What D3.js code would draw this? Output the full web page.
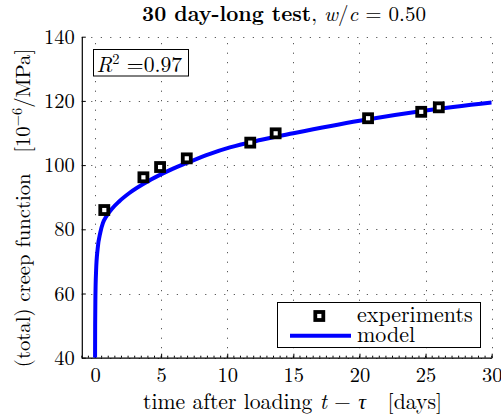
<!DOCTYPE html>
<html>
<head>
<meta charset="utf-8">
<script src="https://cdn.jsdelivr.net/npm/d3@7"></script>
<style>
  body { margin: 0; background: #fff; }
</style>
</head>
<body>
<div id="chart"></div>
<script>
const width = 501;
const height = 419;
const margin = { top: 36.7, right: 9.3, bottom: 61.3, left: 81.8 };
const fontFamily = '"Latin Modern Roman", "CMU Serif", "Liberation Serif", serif';

const days = [0.7, 3.66, 4.92, 6.94, 11.74, 13.66, 20.65, 24.67, 26.0];
const creep = [86.0, 96.2, 99.4, 102.1, 107.0, 109.9, 114.6, 116.6, 118.0];

// model curve
const modelDays = [0.003, 0.01, 0.03, 0.08, 0.2, 0.4, 0.6, 0.85, 1.3, 1.8, 2.6, 4.2, 5.7, 7.2, 8.7, 10.2, 12.5, 15, 20, 25, 30];
const modelCreep = [40, 50, 59, 67, 74, 79, 82, 84, 86.5, 88.6, 91.3, 95.4, 98.5, 101.1, 103.5, 105.5, 107.8, 109.9, 113.8, 117.0, 119.5];

const xTicks = [0, 5, 10, 15, 20, 25, 30];
const yTicks = [40, 60, 80, 100, 120, 140];
const xMinor = d3.range(-1, 30.01, 0.5);

const x = d3.scaleLinear().domain([-1, 30]).range([margin.left, width - margin.right]);
const y = d3.scaleLinear().domain([40, 140]).range([height - margin.bottom, margin.top]);

const svg = d3.select("#chart")
  .append("svg")
  .attr("width", width)
  .attr("height", height)
  .style("font-family", fontFamily);

// grid ////////////////////////////////
const grid = svg.append("g")
  .attr("stroke", "#333")
  .attr("stroke-width", 1)
  .attr("stroke-dasharray", "1,8.5");

grid.selectAll(".vgrid")
  .data(xTicks)
  .enter()
  .append("line")
  .attr("x1", d => Math.round(x(d)) + 0.5)
  .attr("x2", d => Math.round(x(d)) + 0.5)
  .attr("y1", y(40))
  .attr("y2", y(140));

grid.selectAll(".hgrid")
  .data(yTicks)
  .enter()
  .append("line")
  .attr("x1", x(-1))
  .attr("x2", x(30))
  .attr("y1", d => Math.round(y(d)) + 0.5)
  .attr("y2", d => Math.round(y(d)) + 0.5);

// axes ////////////////////////////////
const xAxis = svg.append("g")
  .attr("transform", `translate(0,${y(40)})`)
  .call(d3.axisBottom(x).tickValues(xTicks).tickSizeInner(-4).tickSizeOuter(0).tickPadding(10));
xAxis.select(".domain").attr("stroke-width", 1.2);
xAxis.selectAll("text").attr("font-size", 20.5).style("font-family", fontFamily);

svg.append("g")
  .attr("transform", `translate(0,${y(40)})`)
  .selectAll("line")
  .data(xMinor)
  .enter()
  .append("line")
  .attr("x1", d => x(d))
  .attr("x2", d => x(d))
  .attr("y1", 0)
  .attr("y2", -2)
  .attr("stroke", "#000");

const yAxis = svg.append("g")
  .attr("transform", `translate(${x(-1)},0)`)
  .call(d3.axisLeft(y).tickValues(yTicks).tickSizeInner(-4).tickSizeOuter(0).tickPadding(7));
yAxis.select(".domain").attr("stroke-width", 1.2);
yAxis.selectAll("text").attr("font-size", 20.5).style("font-family", fontFamily);

// model line //////////////////////////
const model = modelDays.map((d, i) => [d, modelCreep[i]]);

svg.append("defs")
  .append("clipPath")
  .attr("id", "plotClip")
  .append("rect")
  .attr("x", x(-1))
  .attr("y", y(140))
  .attr("width", x(30) - x(-1))
  .attr("height", y(40) - y(140));

svg.append("path")
  .datum(model)
  .attr("clip-path", "url(#plotClip)")
  .attr("d", d3.line().x(d => x(d[0])).y(d => y(d[1])).curve(d3.curveMonotoneX))
  .attr("fill", "none")
  .attr("stroke", "#0000ff")
  .attr("stroke-width", 4);

// experiments
svg.selectAll(".exp")
  .data(days)
  .enter()
  .append("rect")
  .attr("class", "exp")
  .attr("x", d => x(d) - 4)
  .attr("y", (d, i) => y(creep[i]) - 4)
  .attr("width", 8)
  .attr("height", 8)
  .attr("fill", "#fff")
  .attr("stroke", "#000")
  .attr("stroke-width", 3.8);

// R^2 box /////////////////////////////
svg.append("rect")
  .attr("x", 93.5)
  .attr("y", 49.5)
  .attr("width", 95)
  .attr("height", 26.5)
  .attr("fill", "#fff")
  .attr("stroke", "#000");

const r2 = svg.append("text")
  .attr("x", 96.5)
  .attr("y", 72)
  .attr("font-size", 21.7);
r2.append("tspan").attr("font-style", "italic").text("R");
r2.append("tspan").attr("font-size", 14.5).attr("dy", -8).text("2");
r2.append("tspan").attr("dy", 8).text(" =0.97");

// legend //////////////////////////////
const legend = svg.append("g");
legend.append("rect")
  .attr("x", 277.5)
  .attr("y", 302.5)
  .attr("width", 203)
  .attr("height", 45)
  .attr("fill", "#fff")
  .attr("stroke", "#000");
legend.append("rect")
  .attr("x", 315.3)
  .attr("y", 312)
  .attr("width", 8)
  .attr("height", 8)
  .attr("fill", "#fff")
  .attr("stroke", "#000")
  .attr("stroke-width", 3.8);
legend.append("line")
  .attr("x1", 290)
  .attr("x2", 351)
  .attr("y1", 335.7)
  .attr("y2", 335.7)
  .attr("stroke", "#0000ff")
  .attr("stroke-width", 4);
legend.append("text")
  .attr("x", 357)
  .attr("y", 322)
  .attr("font-size", 22)
  .text("experiments");
legend.append("text")
  .attr("x", 357)
  .attr("y", 342)
  .attr("font-size", 22)
  .text("model");

// titles //////////////////////////////
const title = svg.append("text")
  .attr("x", 284)
  .attr("y", 21)
  .attr("text-anchor", "middle")
  .attr("font-size", 21);
title.append("tspan").attr("font-weight", "bold").text("30 day-long test");
title.append("tspan").text(", ");
title.append("tspan").attr("font-style", "italic").text("w");
title.append("tspan").text("/");
title.append("tspan").attr("font-style", "italic").text("c");
title.append("tspan").text(" = 0.50");

const xLabel = svg.append("text")
  .attr("x", 292.5)
  .attr("y", 409)
  .attr("text-anchor", "middle")
  .attr("font-size", 21.7);
xLabel.append("tspan").text("time after loading ");
xLabel.append("tspan").attr("font-style", "italic").text("t");
xLabel.append("tspan").text(" − ");
xLabel.append("tspan").attr("font-style", "italic").text("τ");
xLabel.append("tspan").text("\u00a0\u00a0[days]");

const yLabel = svg.append("text")
  .attr("transform", "translate(30,208) rotate(-90)")
  .attr("text-anchor", "middle")
  .attr("font-size", 20.7);
yLabel.append("tspan").text("(total) creep function\u00a0\u00a0[10");
yLabel.append("tspan").attr("font-size", 14.5).attr("dy", -8).text("−6");
yLabel.append("tspan").attr("dy", 8).text("/MPa]");
</script>
</body>
</html>
